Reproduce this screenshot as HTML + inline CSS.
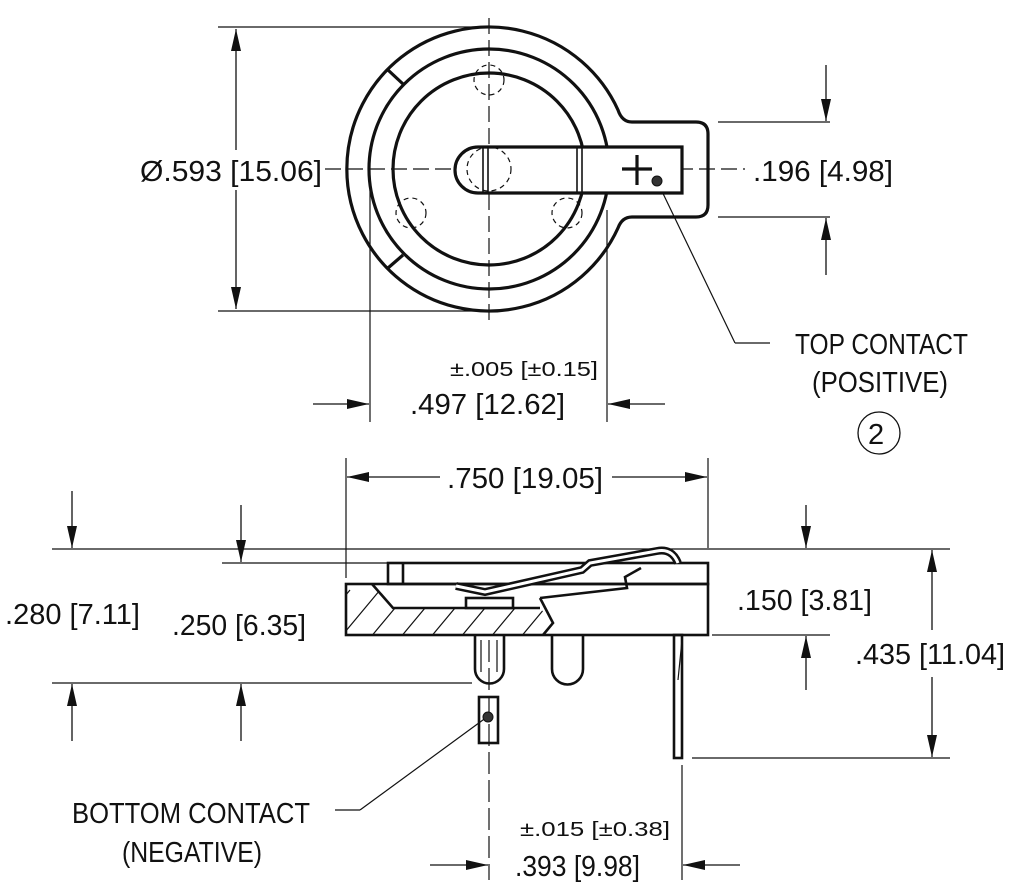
<!DOCTYPE html>
<html><head><meta charset="utf-8"><style>
html,body{margin:0;padding:0;background:#fff}
svg{display:block}
text{font-family:"Liberation Sans Narrow","Liberation Sans",sans-serif;fill:#111}
</style></head><body>
<svg width="1009" height="888" viewBox="0 0 1009 888" xmlns="http://www.w3.org/2000/svg">
<defs>
<marker id="a" viewBox="0 0 22 10" refX="22" refY="5" markerWidth="22" markerHeight="10" markerUnits="userSpaceOnUse" orient="auto"><path d="M0,0 L22,5 L0,10 Z" fill="#111" stroke="none"/></marker>
<clipPath id="hc"><polygon points="346,584 372,584 393,608 540,608 553,623 543,635 346,635"/></clipPath>
</defs>
<g stroke="#111" fill="none">
<g stroke-width="1.2">
<line x1="218" y1="27" x2="489" y2="27"/>
<line x1="218" y1="311" x2="489" y2="311"/>
<line x1="718" y1="122" x2="830" y2="122"/>
<line x1="718" y1="217" x2="830" y2="217"/>
<line x1="370" y1="190" x2="370" y2="422"/>
<line x1="607" y1="210" x2="607" y2="422"/>
<line x1="657" y1="181" x2="735" y2="343"/>
<line x1="735" y1="343" x2="770" y2="343"/>
</g>
<g stroke-width="1.2" stroke-dasharray="16,6">
<line x1="325" y1="169" x2="745" y2="169"/>
<line x1="489" y1="18" x2="489" y2="320"/>
</g>
<g stroke-width="3.2">
<path d="M632,122 L696,122 Q708,122 708,134 L708,205 Q708,217 696,217 L632,217 Q622,217 618,228 A142,142 0 1 1 618,110 Q622,122 632,122 Z"/>
<circle cx="489" cy="169" r="120"/>
<circle cx="489" cy="169" r="96"/>
<line x1="388" y1="70" x2="403" y2="84"/>
<line x1="388" y1="268" x2="403" y2="255"/>
<path d="M682,147 L478,147 A23,23 0 0 0 478,193 L682,193 Z" fill="#fff"/>
<line x1="622" y1="169" x2="652" y2="169"/>
<line x1="637" y1="155" x2="637" y2="185"/>
</g>
<g stroke-width="1.6">
<line x1="483" y1="147" x2="483" y2="193"/><line x1="488" y1="147" x2="488" y2="193"/>
<line x1="577" y1="147" x2="577" y2="193"/><line x1="582" y1="147" x2="582" y2="193"/>
</g>
<g stroke-width="1.2" stroke-dasharray="5,4">
<circle cx="489" cy="80" r="15"/>
<circle cx="411" cy="213" r="15"/>
<circle cx="567" cy="213" r="15"/>
<circle cx="489" cy="169" r="22"/>
</g>
<circle cx="657" cy="181" r="5" fill="#333" stroke-width="1"/>
<g stroke-width="1.3">
<line x1="236" y1="150" x2="236" y2="29" marker-end="url(#a)"/>
<line x1="236" y1="190" x2="236" y2="309" marker-end="url(#a)"/>
<line x1="826" y1="65" x2="826" y2="121" marker-end="url(#a)"/>
<line x1="826" y1="275" x2="826" y2="218" marker-end="url(#a)"/>
<line x1="313" y1="404" x2="369" y2="404" marker-end="url(#a)"/>
<line x1="665" y1="404" x2="608" y2="404" marker-end="url(#a)"/>
</g>
<circle cx="879" cy="433" r="21" stroke-width="1.3"/>

<g stroke-width="1.2">
<line x1="52" y1="549" x2="950" y2="549"/>
<line x1="222" y1="563" x2="388" y2="563"/>
<line x1="52" y1="683" x2="472" y2="683"/>
<line x1="712" y1="635" x2="830" y2="635"/>
<line x1="692" y1="758" x2="950" y2="758"/>
<line x1="346" y1="458" x2="346" y2="578"/>
<line x1="708" y1="458" x2="708" y2="548"/>
<line x1="682" y1="765" x2="682" y2="880"/>
<line x1="487" y1="717" x2="360" y2="810"/>
<line x1="360" y1="810" x2="335" y2="810"/>
</g>
<line x1="489" y1="640" x2="489" y2="880" stroke-width="1.2" stroke-dasharray="22,6"/>
<g stroke-width="1.2" clip-path="url(#hc)">
<line x1="300" y1="650" x2="350" y2="590"/><line x1="330" y1="650" x2="380" y2="590"/>
<line x1="360" y1="650" x2="410" y2="590"/><line x1="390" y1="650" x2="440" y2="590"/>
<line x1="420" y1="650" x2="470" y2="590"/><line x1="450" y1="650" x2="500" y2="590"/>
<line x1="480" y1="650" x2="530" y2="590"/><line x1="510" y1="650" x2="560" y2="590"/>
<line x1="540" y1="650" x2="590" y2="590"/>
</g>
<g stroke-width="2.6">
<rect x="346" y="584" width="362" height="51"/>
<rect x="388" y="563" width="320" height="21"/>
<line x1="403" y1="563" x2="403" y2="584"/>
<polyline points="372,584 393,608 540,608"/>
<polyline points="540,598 553,623 543,635"/>
<polyline points="540,598 627,588 625,577 641,568"/>
<rect x="466" y="598" width="47" height="10" fill="#fff"/>
<path d="M475,635 L475,669 A14.5,14.5 0 0 0 504,669 L504,635"/>
<path d="M552,635 L552,669 A15.5,15.5 0 0 0 583,669 L583,635"/>
<rect x="479" y="697" width="19" height="46"/>
<rect x="674" y="635" width="8" height="123"/>
</g>
<path d="M456,586 L485,592 L582,570 L590,563 L657,551 Q672,548 678,563" stroke-width="8"/>
<path d="M456,586 L485,592 L582,570 L590,563 L657,551 Q672,548 678,563" stroke="#fff" stroke-width="3"/>
<g stroke-width="1.2"><line x1="481" y1="640" x2="481" y2="672"/><line x1="497" y1="640" x2="497" y2="672"/><line x1="682" y1="640" x2="678" y2="680"/></g>
<circle cx="488" cy="717" r="5" fill="#333" stroke-width="1"/>
<g stroke-width="1.3">
<line x1="440" y1="477" x2="347" y2="477" marker-end="url(#a)"/>
<line x1="612" y1="477" x2="707" y2="477" marker-end="url(#a)"/>
<line x1="72" y1="491" x2="72" y2="548" marker-end="url(#a)"/>
<line x1="72" y1="741" x2="72" y2="684" marker-end="url(#a)"/>
<line x1="241" y1="505" x2="241" y2="562" marker-end="url(#a)"/>
<line x1="241" y1="741" x2="241" y2="684" marker-end="url(#a)"/>
<line x1="806" y1="505" x2="806" y2="548" marker-end="url(#a)"/>
<line x1="806" y1="690" x2="806" y2="636" marker-end="url(#a)"/>
<line x1="932" y1="630" x2="932" y2="550" marker-end="url(#a)"/>
<line x1="932" y1="677" x2="932" y2="757" marker-end="url(#a)"/>
<line x1="430" y1="865" x2="488" y2="865" marker-end="url(#a)"/>
<line x1="740" y1="865" x2="683" y2="865" marker-end="url(#a)"/>
</g>
</g>
<g font-size="29">
<text x="140" y="181" textLength="182" lengthAdjust="spacingAndGlyphs">Ø.593 [15.06]</text>
<text x="753" y="181" textLength="140" lengthAdjust="spacingAndGlyphs">.196 [4.98]</text>
<text x="450" y="376" font-size="20" textLength="148" lengthAdjust="spacingAndGlyphs">±.005 [±0.15]</text>
<text x="410" y="414" textLength="155" lengthAdjust="spacingAndGlyphs">.497 [12.62]</text>
<text x="795" y="354" textLength="173" lengthAdjust="spacingAndGlyphs">TOP CONTACT</text>
<text x="812" y="392" textLength="136" lengthAdjust="spacingAndGlyphs">(POSITIVE)</text>
<text x="868" y="444" font-family="Liberation Sans, sans-serif">2</text>
<text x="447" y="488" textLength="156" lengthAdjust="spacingAndGlyphs">.750 [19.05]</text>
<text x="5" y="624" textLength="135" lengthAdjust="spacingAndGlyphs">.280 [7.11]</text>
<text x="172" y="635" textLength="134" lengthAdjust="spacingAndGlyphs">.250 [6.35]</text>
<text x="737" y="610" textLength="135" lengthAdjust="spacingAndGlyphs">.150 [3.81]</text>
<text x="855" y="664" textLength="150" lengthAdjust="spacingAndGlyphs">.435 [11.04]</text>
<text x="520" y="836" font-size="20" textLength="150" lengthAdjust="spacingAndGlyphs">±.015 [±0.38]</text>
<text x="515" y="876" textLength="125" lengthAdjust="spacingAndGlyphs">.393 [9.98]</text>
<text x="72" y="823" textLength="238" lengthAdjust="spacingAndGlyphs">BOTTOM CONTACT</text>
<text x="122" y="862" textLength="140" lengthAdjust="spacingAndGlyphs">(NEGATIVE)</text>
</g>
</svg>
</body></html>
